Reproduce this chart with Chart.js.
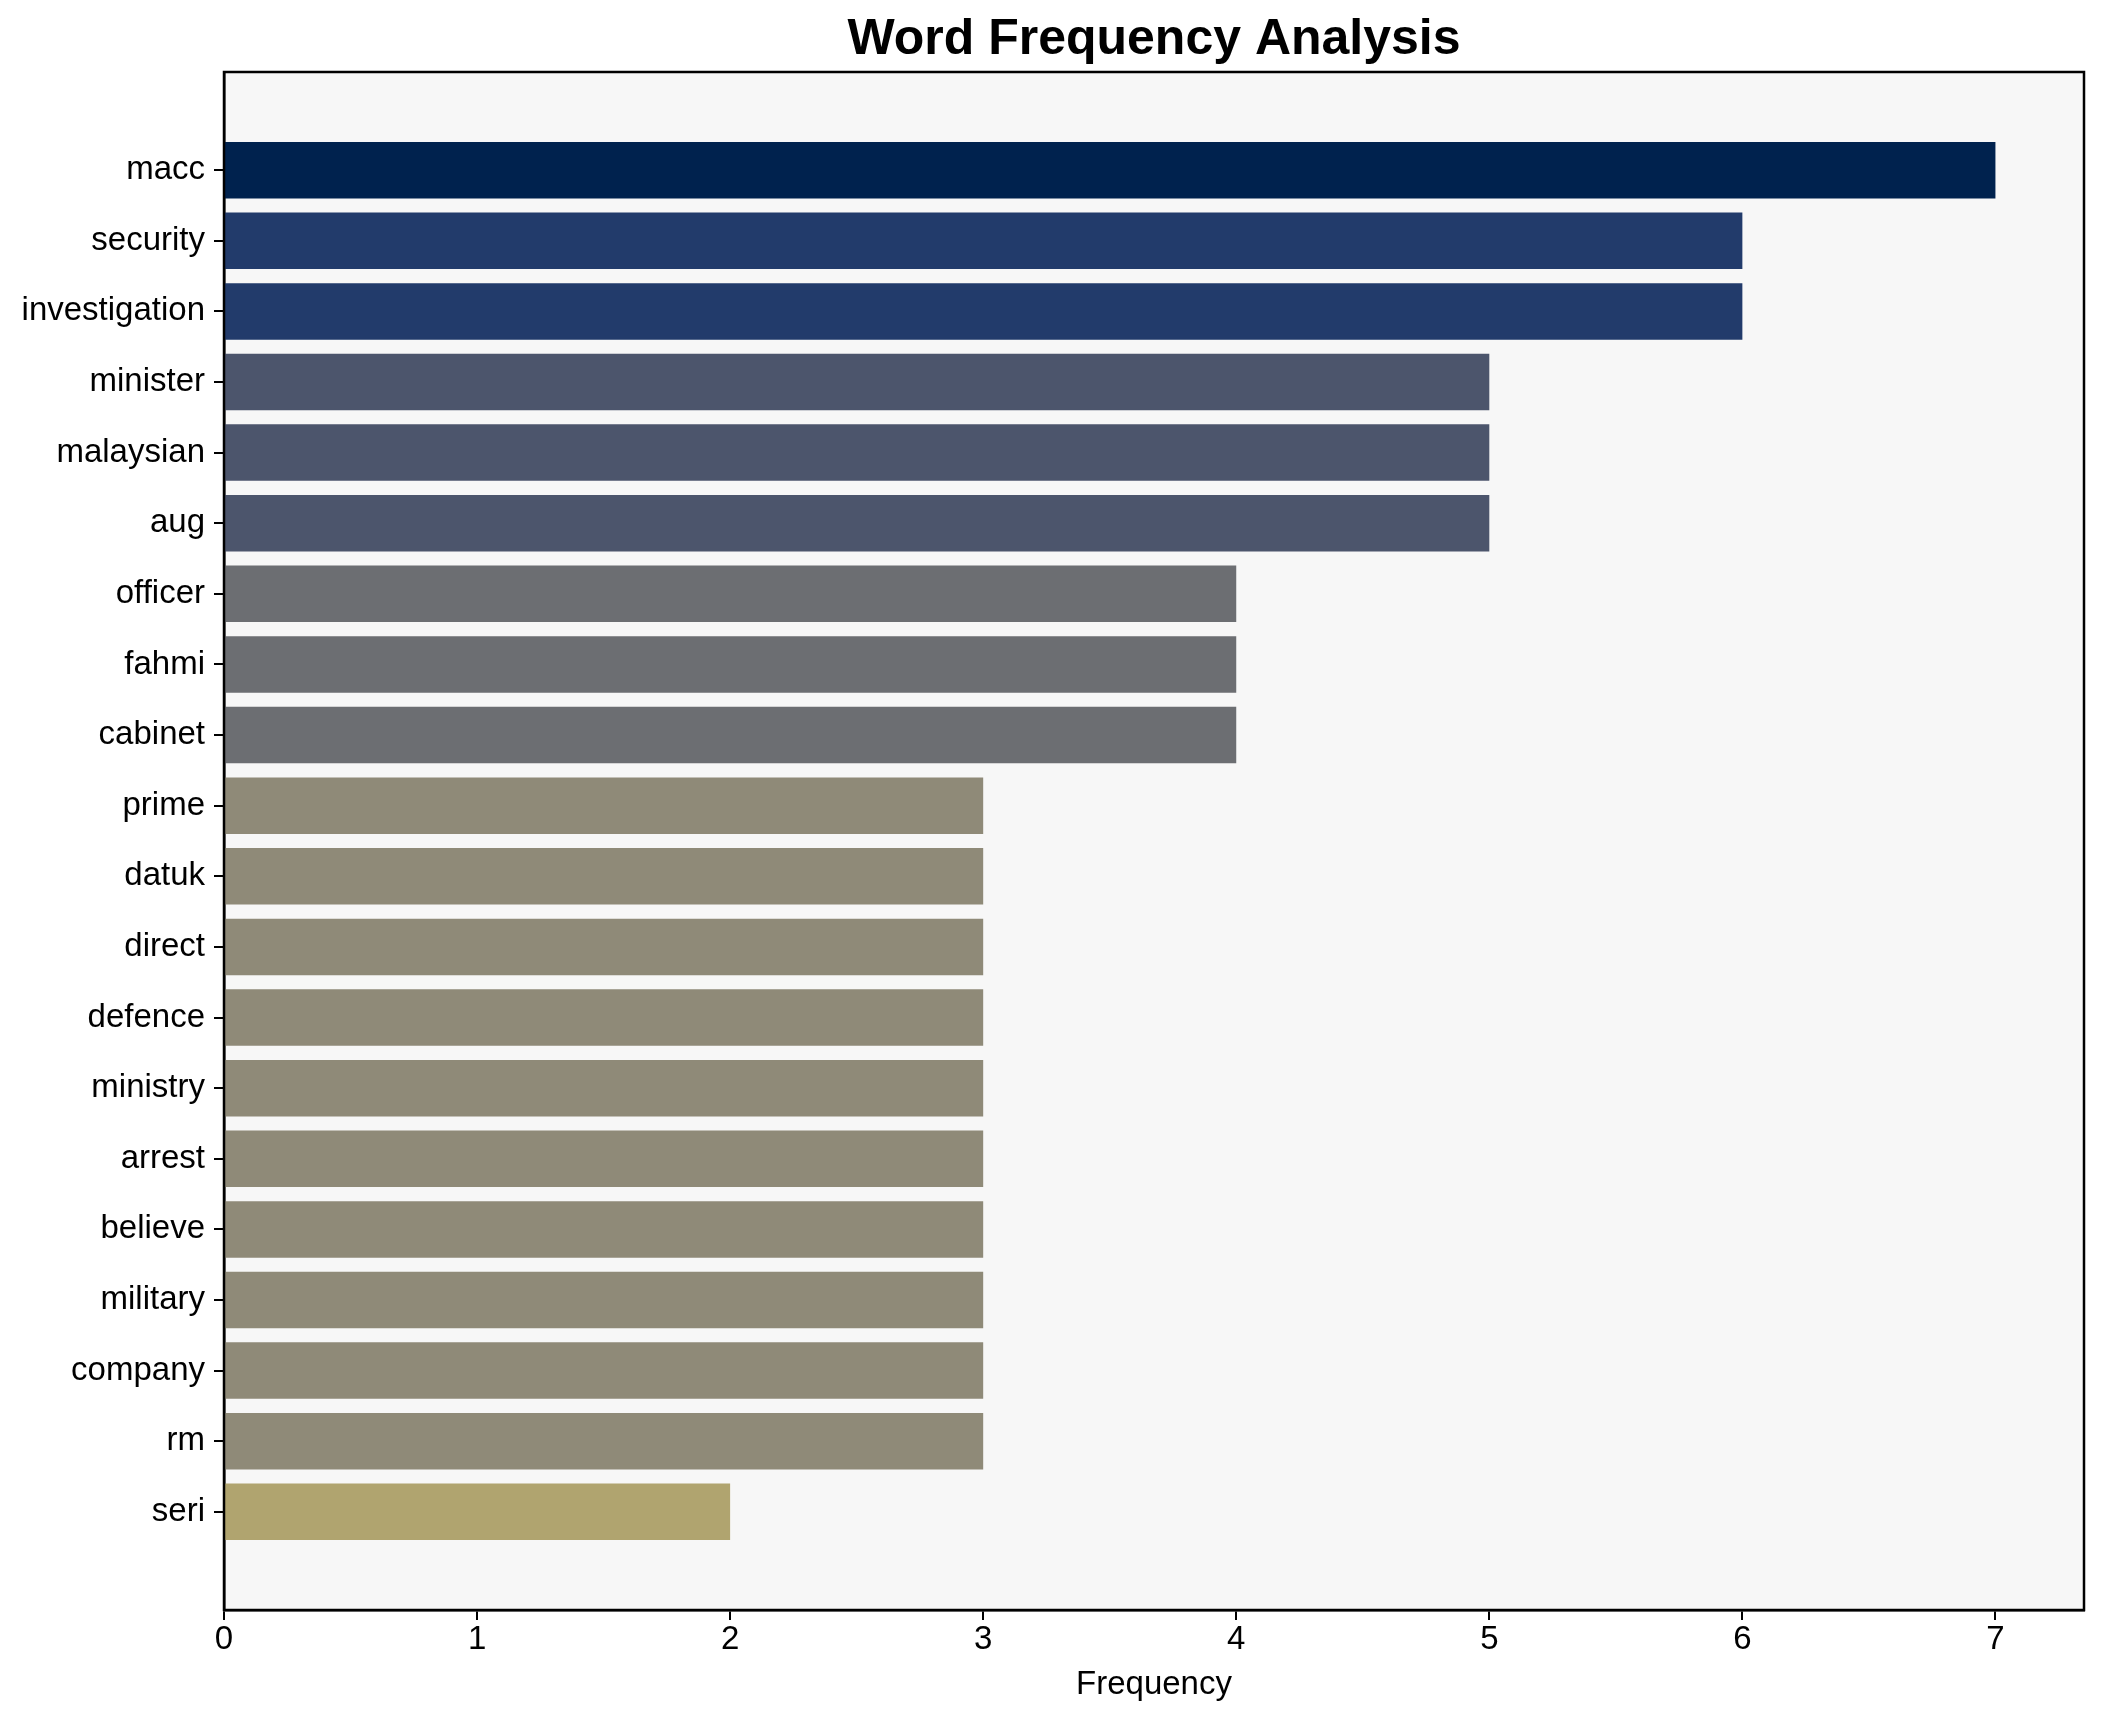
<!DOCTYPE html>
<html>
<head>
<meta charset="utf-8">
<script src="https://cdn.jsdelivr.net/npm/chart.js@4/dist/chart.umd.min.js"></script>
<style>
  html, body { margin: 0; padding: 0; background: #fff; }
  #wrap { width: 2104px; height: 1722px; position: relative; }
</style>
</head>
<body>
<div id="wrap"><canvas id="chart"></canvas></div>
<script>
const words = ['macc', 'security', 'investigation', 'minister', 'malaysian', 'aug', 'officer', 'fahmi', 'cabinet', 'prime', 'datuk', 'direct', 'defence', 'ministry', 'arrest', 'believe', 'military', 'company', 'rm', 'seri'];
const counts = [7, 6, 6, 5, 5, 5, 4, 4, 4, 3, 3, 3, 3, 3, 3, 3, 3, 3, 3, 2];
const xTicks = [0, 1, 2, 3, 4, 5, 6, 7];

// colour per frequency, as in the picture
const colorByCount = { 7: '#00224e', 6: '#223b6b', 5: '#4c556c', 4: '#6c6e72', 3: '#8f8a78', 2: '#b0a46f' };

const FONT = "'Liberation Sans', Arial, sans-serif";

const frame = {
  id: 'frame',
  beforeDraw(chart) {
    const { ctx, chartArea: a } = chart;
    ctx.save();
    ctx.fillStyle = '#f7f7f7';
    ctx.fillRect(a.left, a.top, a.right - a.left, a.bottom - a.top);
    ctx.restore();
  },
  afterDraw(chart) {
    const { ctx, chartArea: a } = chart;
    ctx.save();
    ctx.strokeStyle = '#000';
    ctx.lineWidth = 2.5;
    ctx.strokeRect(a.left, a.top, a.right - a.left, a.bottom - a.top);
    ctx.restore();
  }
};

new Chart(document.getElementById('chart'), {
  type: 'bar',
  data: {
    datasets: [{
      data: words.map((w, i) => ({ x: counts[i], y: i })),
      backgroundColor: counts.map(c => colorByCount[c]),
      borderWidth: 0,
      categoryPercentage: 1,
      barPercentage: 0.8
    }]
  },
  options: {
    indexAxis: 'y',
    responsive: true,
    maintainAspectRatio: false,
    animation: false,
    devicePixelRatio: 1,
    layout: { padding: { left: 0, right: 20, top: 0, bottom: 0 } },
    plugins: {
      legend: { display: false },
      tooltip: { enabled: false },
      title: {
        display: true,
        fullSize: false,
        text: 'Word Frequency Analysis',
        color: '#000',
        font: { family: FONT, size: 50, weight: 'bold' },
        padding: { top: 10, bottom: 2 }
      }
    },
    scales: {
      x: {
        type: 'linear',
        min: 0,
        max: 7.35,
        afterBuildTicks: s => { s.ticks = xTicks.map(v => ({ value: v })); },
        afterFit: s => { s.height = 112; },
        grid: { drawOnChartArea: false, drawTicks: true, tickLength: 10, color: '#000', lineWidth: 2 },
        border: { display: true, color: '#000', width: 2.5 },
        ticks: { color: '#000', font: { family: FONT, size: 33 }, padding: 0, maxRotation: 0 },
        title: { display: true, text: 'Frequency', color: '#000', font: { family: FONT, size: 33 }, padding: { top: 0, bottom: 17 } }
      },
      y: {
        type: 'linear',
        reverse: true,
        offset: false,
        min: -1.39,
        max: 20.39,
        afterBuildTicks: s => { s.ticks = words.map((w, i) => ({ value: i })); },
        afterFit: s => { s.width = 224; },
        grid: { offset: false, drawOnChartArea: false, drawTicks: true, tickLength: 10, color: '#000', lineWidth: 2 },
        border: { display: true, color: '#000', width: 2.5 },
        ticks: {
          color: '#000',
          font: { family: FONT, size: 33 },
          padding: 9,
          autoSkip: false,
          callback: v => words[v]
        }
      }
    }
  },
  plugins: [frame]
});
</script>
</body>
</html>
